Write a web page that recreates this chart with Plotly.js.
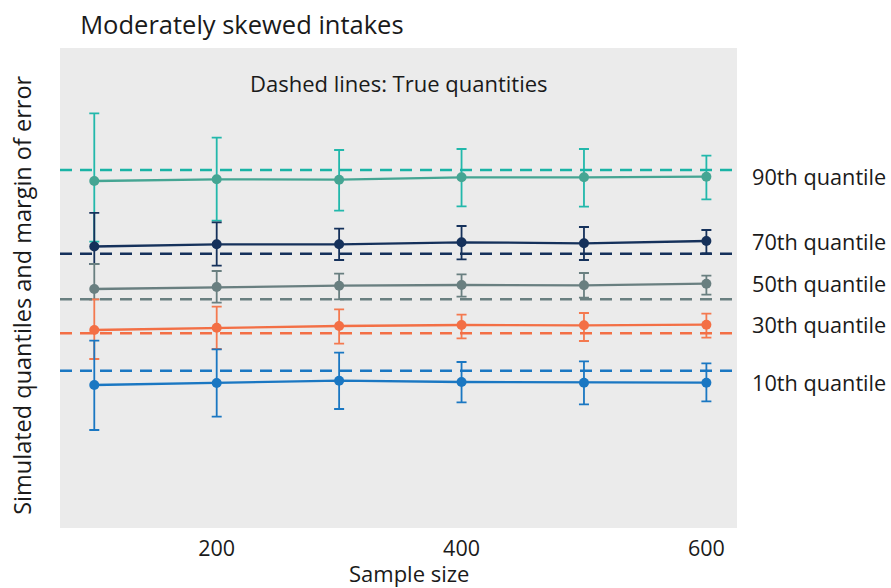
<!DOCTYPE html>
<html>
<head>
<meta charset="utf-8">
<script src="https://cdn.plot.ly/plotly-3.0.1.min.js"></script>
<style>html,body{margin:0;padding:0;background:#fff;}#chart{width:891px;height:588px;}</style>
</head>
<body>
<div id="chart"></div>
<script>
// Sample sizes
const sampleSizes = [100, 200, 300, 400, 500, 600];

// Quantile labels
const quantileLabels = ["90th quantile", "70th quantile", "50th quantile", "30th quantile", "10th quantile"];

// Tick labels
const xTickVals = [200, 400, 600];
const xTickText = ["200", "400", "600"];

// Simulated quantiles (estimate)
const q90 = [34.70, 34.87, 34.83, 35.07, 35.07, 35.13];
const q70 = [28.15, 28.37, 28.37, 28.57, 28.47, 28.70];
const q50 = [23.90, 24.10, 24.23, 24.30, 24.27, 24.43];
const q30 = [19.80, 20.03, 20.20, 20.30, 20.27, 20.33];
const q10 = [14.30, 14.50, 14.73, 14.60, 14.53, 14.53];

// Upper bounds of margin of error
const q90Upper = [41.47, 39.03, 37.80, 37.90, 37.90, 37.23];
const q70Upper = [31.52, 30.57, 29.93, 30.20, 30.10, 29.80];
const q50Upper = [26.40, 25.70, 25.43, 25.37, 25.50, 25.23];
const q30Upper = [22.87, 22.13, 21.87, 21.33, 21.50, 21.43];
const q10Upper = [18.73, 17.87, 17.53, 16.60, 16.67, 16.47];

// Lower bounds of margin of error
const q90Lower = [28.63, 30.73, 31.73, 32.17, 32.13, 32.87];
const q70Lower = [26.40, 26.23, 26.80, 26.87, 26.80, 27.47];
const q50Lower = [22.87, 22.53, 22.87, 23.13, 23.03, 23.33];
const q30Lower = [16.90, 17.90, 18.43, 18.97, 18.70, 19.03];
const q10Lower = [9.80, 11.13, 11.90, 12.57, 12.37, 12.67];

// True quantities (dashed lines)
const trueValues = [35.80, 27.43, 22.87, 19.47, 15.73];

const series = [q90, q70, q50, q30, q10];
const uppers = [q90Upper, q70Upper, q50Upper, q30Upper, q10Upper];
const lowers = [q90Lower, q70Lower, q50Lower, q30Lower, q10Lower];

const lineColors = ["#45a593", "#15315b", "#697f80", "#f36f45", "#1a77c2"];
const errColors  = ["#22b8ab", "#15315b", "#697f80", "#f4794f", "#1a77c2"];
const dashColors = ["#1ab3a5", "#15315b", "#697f80", "#f36f45", "#1a77c2"];

const FONT = "'Open Sans', 'Noto Sans', sans-serif";
const TXT = "#1a1a1a";

const traces = series.map((vals, i) => ({
  type: "scatter",
  mode: "lines+markers",
  x: sampleSizes,
  y: vals,
  name: quantileLabels[i],
  line: {color: lineColors[i], width: 2.3},
  marker: {color: lineColors[i], size: 10},
  error_y: {
    type: "data",
    symmetric: false,
    array: vals.map((v, j) => uppers[i][j] - v),
    arrayminus: vals.map((v, j) => v - lowers[i][j]),
    color: errColors[i],
    thickness: 1.8,
    width: 5
  },
  hoverinfo: "x+y",
  showlegend: false
}));

const shapes = trueValues.map((v, i) => ({
  type: "line",
  xref: "paper", yref: "y",
  x0: 0, x1: 1, y0: v, y1: v,
  line: {color: dashColors[i], width: 2.5, dash: "12px,8px"},
  layer: "above"
}));

const annotations = quantileLabels.map((t, i) => ({
  text: t,
  xref: "paper", yref: "y",
  x: 1.019, y: series[i][series[i].length - 1],
  xanchor: "left", yanchor: "middle",
  showarrow: false,
  font: {family: FONT, size: 21.7, color: TXT}
}));
annotations.push({
  text: "Dashed lines: True quantities",
  xref: "paper", yref: "paper",
  x: 0.5, y: 0.927,
  xanchor: "center", yanchor: "middle",
  showarrow: false,
  font: {family: FONT, size: 22, color: TXT}
});
// Axis titles
annotations.push({
  text: "Sample size",
  xref: "paper", yref: "paper",
  x: 0.516, y: -0.093,
  xanchor: "center", yanchor: "middle",
  showarrow: false,
  borderpad: 0,
  font: {family: FONT, size: 22, color: TXT}
});
annotations.push({
  text: "Simulated quantiles and margin of error",
  xref: "paper", yref: "paper",
  x: -0.056, y: 0.484,
  xanchor: "center", yanchor: "middle",
  textangle: -90,
  showarrow: false,
  font: {family: FONT, size: 23.5, color: TXT}
});

const layout = {
  width: 891, height: 588,
  margin: {l: 60, r: 154, t: 48, b: 60},
  paper_bgcolor: "#ffffff",
  plot_bgcolor: "#ebebeb",
  font: {family: FONT, color: TXT},
  title: {
    text: "Moderately skewed intakes",
    xref: "container", yref: "container",
    x: 0.09, xanchor: "left",
    y: 0.957, yanchor: "middle",
    font: {family: FONT, size: 25.5, color: TXT}
  },
  xaxis: {
    range: [72, 625],
    tickvals: xTickVals,
    ticktext: xTickText,
    showgrid: false, zeroline: false,
    ticks: "outside", ticklen: 1, tickcolor: "rgba(0,0,0,0)",
    tickfont: {family: FONT, size: 21.5, color: TXT},
    showline: false
  },
  yaxis: {
    range: [0, 48],
    showticklabels: false,
    showgrid: false, zeroline: false,
    ticks: "",
    showline: false
  },
  shapes: shapes,
  annotations: annotations
};

Plotly.newPlot("chart", traces, layout, {displayModeBar: false, staticPlot: true});
</script>
</body>
</html>
